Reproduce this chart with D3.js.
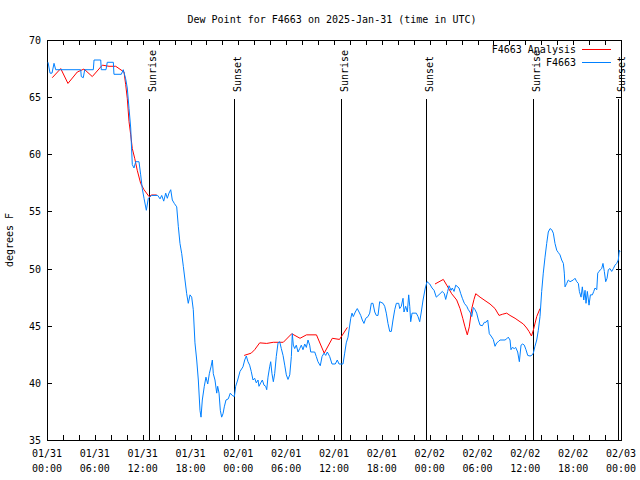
<!DOCTYPE html>
<html>
<head>
<meta charset="utf-8">
<script src="https://cdn.jsdelivr.net/npm/d3@7/dist/d3.min.js"></script>
<style>
  html, body { margin: 0; padding: 0; background: #fff; }
  svg { display: block; }
  text { font-family: "DejaVu Sans Mono", "Liberation Mono", monospace; font-size: 10px; fill: #000; }
</style>
</head>
<body>
<svg id="chart" width="640" height="480"></svg>
<script>
// ---------- data ----------
const chartTitle = "Dew Point for F4663 on 2025-Jan-31 (time in UTC)";
const yAxisLabel = "degrees F";
const startTime = "2025-01-31T00:00:00Z";
const endTime = "2025-02-03T00:00:00Z";

// F4663 observations: hours after 2025-01-31 00:00 UTC, dew point (F)
const obsHours = [0.13,0.38,0.63,0.88,1.09,1.38,4.23,4.30,4.55,4.73,5.81,5.90,6.74,6.81,7.40,7.56,8.32,8.40,9.32,9.57,
  9.87,10.07,10.29,10.50,10.57,10.70,10.91,11.13,11.54,11.75,11.95,12.17,12.46,12.71,13.13,13.89,14.18,14.39,14.64,14.89,
  15.09,15.30,15.52,15.72,15.97,16.27,16.47,16.68,16.90,17.10,17.31,17.52,17.72,17.94,18.15,18.35,18.56,18.78,18.98,19.19,
  19.32,19.48,19.73,19.94,20.16,20.36,20.57,20.74,20.86,21.07,21.29,21.41,21.58,21.74,21.91,22.08,22.24,22.45,22.74,22.99,
  23.24,23.50,23.67,23.92,24.21,24.58,24.80,25.00,25.21,25.42,25.62,25.84,26.05,26.25,26.47,26.59,26.81,27.01,27.22,27.43,
  27.56,27.72,27.93,28.06,28.22,28.39,28.56,28.76,28.98,29.19,29.39,29.61,29.82,30.02,30.23,30.45,30.65,30.77,30.90,31.07,
  31.27,31.49,31.70,31.90,32.11,32.33,32.53,32.74,32.95,33.08,33.58,33.78,33.99,34.28,34.50,34.75,34.96,35.16,35.46,35.75,
  36.16,36.41,36.63,37.13,37.34,37.54,37.76,38.10,38.26,38.42,38.67,38.92,39.14,39.35,39.55,39.76,39.98,40.27,40.48,40.68,
  40.89,41.11,41.31,41.52,41.73,42.15,42.36,42.56,42.77,42.99,43.19,43.40,43.62,43.82,44.12,44.24,44.44,44.66,44.78,44.99,
  45.20,45.37,45.50,45.62,45.79,46.32,46.54,46.75,46.95,47.17,47.45,47.67,48.01,48.30,48.55,48.83,49.30,49.59,49.84,50.01,
  50.26,50.43,50.68,50.84,51.06,51.27,51.68,51.90,52.10,52.35,52.65,52.85,53.06,53.28,53.48,53.69,53.90,54.11,54.32,54.61,
  54.86,55.07,55.28,55.48,55.70,55.98,56.20,56.41,56.61,56.82,57.45,57.66,57.86,58.08,58.20,58.37,58.62,58.79,59.04,59.25,
  59.46,59.67,59.87,60.08,60.30,60.59,60.80,61.00,61.21,61.43,61.63,61.84,62.05,62.25,62.47,62.68,62.88,63.10,63.31,63.51,
  63.72,63.94,64.14,64.35,64.56,64.77,64.89,64.98,65.19,65.39,65.61,66.02,66.23,66.45,66.65,66.78,66.99,67.15,67.33,67.49,
  67.61,67.78,67.99,68.16,68.41,68.58,68.74,68.96,69.08,69.25,69.41,69.58,69.74,69.91,70.08,70.25,70.41,70.62,70.83,71.04,
  71.25,71.46,71.66,71.79,71.88];
const obsValues = [68.05,67.1,67.1,67.96,67.4,67.4,67.4,66.8,66.7,67.4,67.4,68.25,68.25,67.4,67.4,68.05,68.05,67.0,67.0,67.4,
  66.6,65.8,64.0,62.3,61.1,59.1,58.8,59.35,59.35,58.2,57.0,56.15,55.1,56.15,56.4,56.4,56.1,56.4,55.9,56.6,
  56.15,56.6,56.9,56.0,55.7,55.4,53.7,52.2,51.3,50.2,49.0,47.8,46.96,47.7,47.5,46.4,43.5,42.0,40.25,37.6,
  37.0,38.5,39.7,40.5,39.9,40.8,41.4,42.0,40.8,40.25,39.1,39.7,39.1,37.6,37.0,37.3,37.9,38.5,38.6,39.1,
  38.9,38.8,39.7,40.25,41.0,41.4,42.0,42.35,41.85,41.55,41.0,40.25,40.4,40.0,40.25,39.7,40.0,40.25,39.8,39.7,
  39.4,40.5,41.4,41.85,40.8,40.1,40.8,42.3,43.5,43.6,43.0,42.4,41.55,40.7,40.3,40.7,42.3,44.3,43.3,43.0,
  43.3,42.7,43.0,43.3,42.9,43.4,43.1,43.75,43.3,42.7,42.7,42.3,41.85,41.5,42.3,42.6,42.4,42.7,42.3,41.65,
  41.65,42.0,41.65,41.65,42.6,43.5,44.0,45.65,46.1,45.8,46.2,46.5,46.2,45.9,45.5,45.2,45.65,45.8,46.1,46.96,
  46.96,46.2,45.9,45.9,47.1,46.96,46.7,46.1,45.2,44.5,44.5,45.5,46.4,46.96,46.96,46.5,46.7,47.4,46.2,46.7,
  46.2,47.7,46.7,45.35,46.1,46.1,45.8,45.35,46.2,47.25,48.3,48.85,48.65,48.3,48.1,47.5,47.8,48.0,47.8,47.3,
  48.0,48.5,48.1,48.3,48.0,48.55,48.3,47.8,47.4,46.96,46.7,46.4,46.2,45.8,46.6,46.4,46.1,45.5,45.05,45.0,
  45.3,45.3,45.5,44.3,44.1,43.8,43.2,43.5,43.6,43.75,43.75,43.85,44.0,43.75,42.9,43.1,43.0,43.1,42.7,41.85,
  43.3,43.4,43.3,42.9,42.4,42.35,42.4,42.6,43.2,43.75,44.6,45.8,48.0,49.6,51.0,52.2,53.2,53.5,53.4,53.1,
  52.2,51.6,51.4,51.2,50.75,50.45,49.6,48.4,48.7,49.0,48.85,49.0,49.15,48.85,48.7,48.0,47.5,48.4,47.25,48.1,
  46.96,48.0,46.8,47.7,47.7,48.0,48.3,48.15,49.6,49.75,49.9,50.0,50.45,49.75,48.85,49.15,49.9,50.0,49.75,50.0,
  50.3,50.45,50.75,51.6,51.45];

// F4663 Analysis: hours after start, dew point (F); null marks a gap
const anaHours = [0.66,1.72,2.63,3.80,4.64,5.68,6.94,7.78,8.62,9.66,9.87,10.07,10.29,10.50,10.70,11.00,11.32,11.75,12.17,12.80,13.13,13.76,
  18.0,
  24.73,25.62,26.05,26.68,27.56,28.39,29.64,30.70,31.74,32.55,33.80,34.77,35.79,36.69,37.67,
  43.0,
  48.67,49.71,50.14,50.76,51.39,51.81,52.15,52.43,52.72,52.97,53.28,53.56,53.78,54.32,54.94,55.57,56.20,56.70,57.12,57.66,58.08,
  58.71,59.33,59.75,60.17,60.46,60.77,61.00,61.43,61.84];
const anaValues = [66.7,67.5,66.2,67.2,67.46,66.8,67.8,67.7,67.7,67.2,66.1,64.9,62.85,61.7,60.5,59.65,58.6,57.45,56.9,56.3,56.44,56.44,
  null,
  42.4,42.6,42.9,43.5,43.45,43.55,43.55,44.3,43.9,44.2,44.2,42.6,43.9,43.8,44.85,
  null,
  48.65,49.05,48.55,47.8,47.25,46.5,45.65,44.9,44.2,44.9,46.5,47.3,47.8,47.5,47.2,46.9,46.5,45.9,46.0,46.1,45.9,
  45.65,45.35,45.15,44.8,44.5,44.1,44.6,45.8,46.5];

const sunNames = ["Sunrise","Sunset","Sunrise","Sunset","Sunrise","Sunset"];
const sunTimes = ["2025-01-31T12:50Z","2025-01-31T23:30Z","2025-02-01T12:55Z","2025-02-01T23:35Z","2025-02-02T13:00Z","2025-02-02T23:40Z"];

const yTicks = [35,40,45,50,55,60,65,70];
const seriesNames = ["F4663 Analysis","F4663"];
const seriesColors = ["#ff0000","#0080ff"];

// ---------- chart ----------
const svg = d3.select("#chart");
const W = 640, H = 480;
const L = 47, R = 621, T = 40, B = 440;
const t0 = new Date(startTime), t1 = new Date(endTime);
const hourToDate = h => new Date(t0.getTime() + h * 3600000);

const x = d3.scaleUtc().domain([t0, t1]).range([L, R]);
const y = d3.scaleLinear().domain([35, 70]).range([B, T]);

svg.append("rect").attr("width", W).attr("height", H).attr("fill", "#fff");

// title
svg.append("text").attr("x", 332).attr("y", 23).attr("text-anchor", "middle").text(chartTitle);

// y label
svg.append("text")
  .attr("transform", `translate(13,${(T + B) / 2}) rotate(-90)`)
  .attr("text-anchor", "middle").text(yAxisLabel);

// axes (ticks inward, mirrored)
const tick2h = d3.utcHour.every(2);
const axB = svg.append("g").attr("transform", `translate(0,${B})`)
  .call(d3.axisBottom(x).ticks(tick2h).tickSize(-5).tickSizeOuter(0).tickFormat(""));
const axT = svg.append("g").attr("transform", `translate(0,${T})`)
  .call(d3.axisTop(x).ticks(tick2h).tickSize(-5).tickSizeOuter(0).tickFormat(""));
const axL = svg.append("g").attr("transform", `translate(${L},0)`)
  .call(d3.axisLeft(y).tickValues(yTicks).tickSize(-5).tickSizeOuter(0).tickFormat(d3.format("d")));
const axR = svg.append("g").attr("transform", `translate(${R},0)`)
  .call(d3.axisRight(y).tickValues(yTicks).tickSize(-5).tickSizeOuter(0).tickFormat(""));
[axB, axT, axL, axR].forEach(g => {
  g.select(".domain").remove();
  g.selectAll("line").attr("stroke", "#000").attr("shape-rendering", "crispEdges");
  g.selectAll("text").attr("font-family", null).attr("font-size", null);
});
axL.selectAll("text").attr("x", -6).attr("dy", "0.35em");

// x labels, two lines
const fmtDate = d3.utcFormat("%m/%d"), fmtTime = d3.utcFormat("%H:%M");
const labelTicks = d3.utcHour.every(6).range(t0, new Date(t1.getTime() + 1));
const xl = svg.append("g");
labelTicks.forEach(d => {
  const t = xl.append("text").attr("text-anchor", "middle");
  t.append("tspan").attr("x", x(d)).attr("y", 457).text(fmtDate(d));
  t.append("tspan").attr("x", x(d)).attr("y", 472).text(fmtTime(d));
});

// border
svg.append("rect").attr("x", L).attr("y", T).attr("width", R - L).attr("height", B - T)
  .attr("fill", "none").attr("stroke", "#000").attr("shape-rendering", "crispEdges");

// sunrise / sunset markers
sunTimes.forEach((s, i) => {
  const xx = Math.round(x(new Date(s))) + 0.5;
  svg.append("line").attr("x1", xx).attr("x2", xx).attr("y1", 99).attr("y2", B)
    .attr("stroke", "#000").attr("shape-rendering", "crispEdges");
  svg.append("text").attr("transform", `translate(${xx + 6},92) rotate(-90)`)
    .attr("text-anchor", "start").text(sunNames[i]);
});

// series
const ana = anaHours.map((h, i) => ({ t: hourToDate(h), v: anaValues[i] }));
const obs = obsHours.map((h, i) => ({ t: hourToDate(h), v: obsValues[i] }));
const line = d3.line().defined(d => d.v != null).x(d => x(d.t)).y(d => y(d.v));

svg.append("path").datum(ana).attr("d", line).attr("fill", "none")
  .attr("stroke", seriesColors[0]).attr("stroke-width", 1);
svg.append("path").datum(obs).attr("d", line).attr("fill", "none")
  .attr("stroke", seriesColors[1]).attr("stroke-width", 1);

// legend
const lg = svg.append("g");
seriesNames.forEach((n, i) => {
  const yy = 49 + i * 13;
  lg.append("text").attr("x", 576).attr("y", yy).attr("dy", "0.35em").attr("text-anchor", "end").text(n);
  lg.append("line").attr("x1", 582).attr("x2", 611).attr("y1", yy + 0.5).attr("y2", yy + 0.5)
    .attr("stroke", seriesColors[i]).attr("shape-rendering", "crispEdges");
});
</script>
</body>
</html>
